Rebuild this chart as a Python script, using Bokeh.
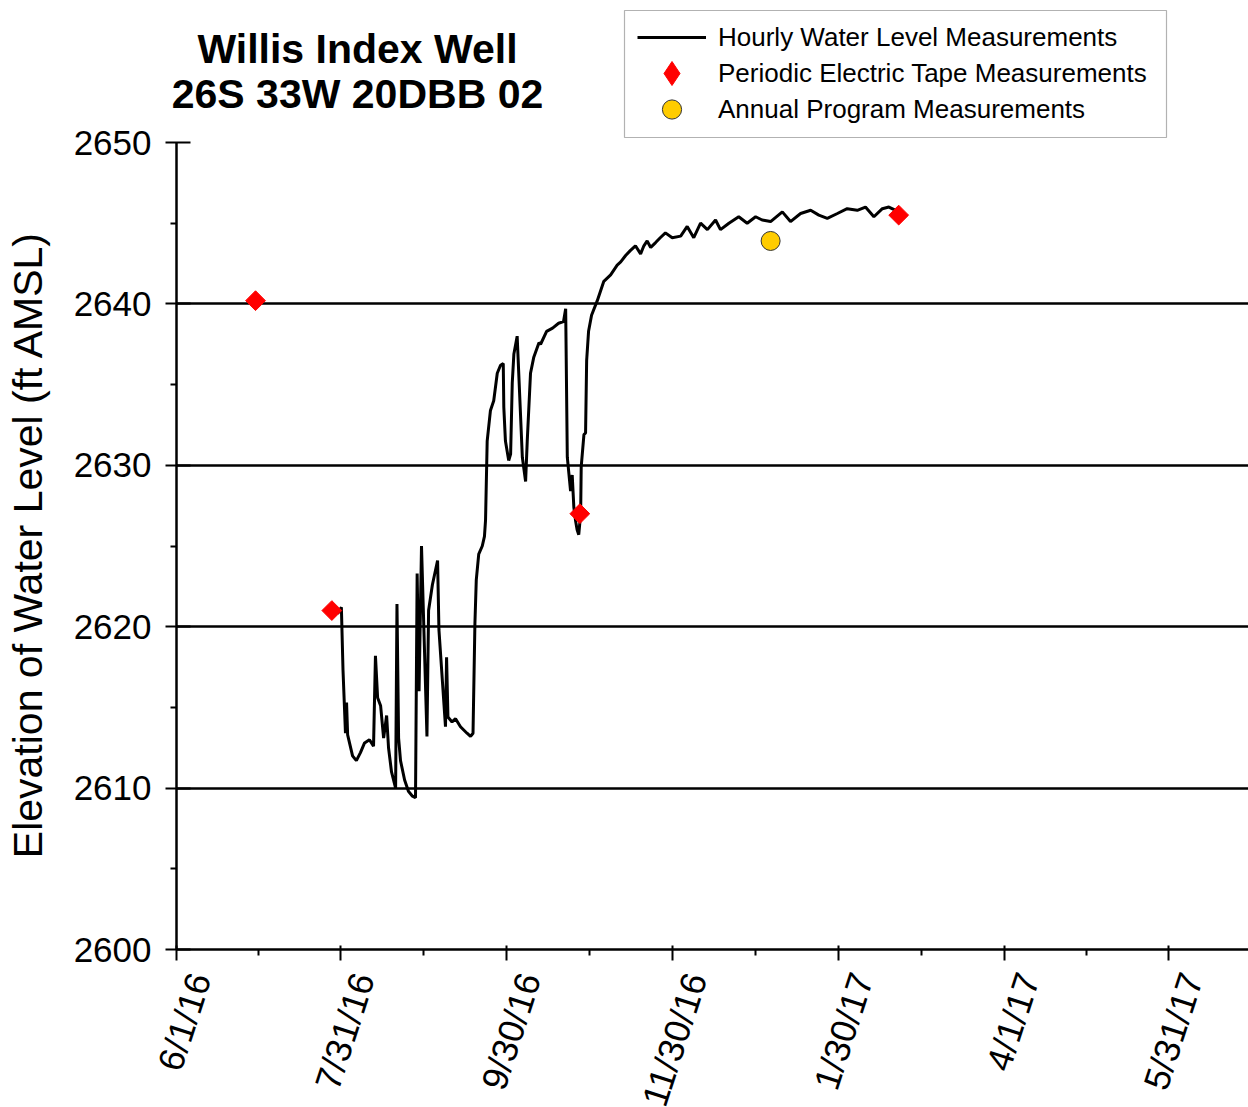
import math
import pandas as pd
from bokeh.plotting import figure
from bokeh.models import FixedTicker, Label, Legend, LegendItem, BoxAnnotation
from bokeh.embed import file_html
from bokeh.resources import INLINE

# ---------------- data ----------------
start_date = "2016-06-01"
tick_dates = ["2016-06-01", "2016-07-31", "2016-09-30", "2016-11-30",
              "2017-01-30", "2017-04-01", "2017-05-31"]
tick_labels = ["6/1/16", "7/31/16", "9/30/16", "11/30/16", "1/30/17", "4/1/17", "5/31/17"]
y_ticks = [2600, 2610, 2620, 2630, 2640, 2650]
y_minor = [2605, 2615, 2625, 2635, 2645]
grid_levels = [2610, 2620, 2630, 2640]

# hourly record: days since 6/1/16, elevation (ft AMSL)
hourly_days = [59.1, 60.5, 61.1, 62.0, 62.4, 62.8, 64.6, 66.0, 67.5, 69.0, 70.8, 72.3,
               73.0, 73.8, 74.9, 76.0, 77.1, 77.8, 78.9, 80.4, 80.9, 81.5, 82.2, 83.7,
               85.1, 86.6, 87.7, 88.3, 89.0, 89.9, 91.9, 92.5, 93.9, 95.8, 96.3, 98.7,
               99.1, 99.6, 101.1, 102.4, 104.2, 106.6, 107.9, 108.8, 109.5, 110.0, 110.9,
               112.2, 113.0, 113.4, 114.0, 115.2, 116.4, 117.7, 118.9, 119.9, 120.1, 120.7,
               121.9, 122.6, 123.2, 123.8, 125.0, 126.9, 128.1, 128.7, 129.9, 131.1, 133.0,
               133.6, 135.8, 138.0, 140.2, 142.0, 142.8, 143.4, 144.6, 145.2, 145.8, 146.4,
               147.0, 147.6, 148.3, 148.5, 149.5, 150.1, 150.5, 151.2, 152.3, 154.4, 156.8,
               159.3, 161.7, 163.0, 164.8, 166.5, 168.4, 170.3, 171.5, 172.7, 174.0, 175.8,
               177.5, 179.4, 181.9, 185.0, 187.4, 189.8, 192.3, 194.8, 197.8, 199.6, 202.7,
               206.3, 209.4, 212.5, 214.9, 218.0, 222.3, 225.3, 229.0, 232.7, 235.7, 238.8,
               242.5, 246.1, 249.8, 252.8, 255.9, 259.0, 261.4, 263.9]
hourly_level = [2620.8, 2621.2, 2617.3, 2613.4, 2615.3, 2613.3, 2612.0, 2611.7, 2612.2, 2612.8,
                2613.0, 2612.6, 2618.2, 2615.6, 2615.1, 2613.1, 2614.5, 2612.5, 2611.0, 2610.0,
                2621.4, 2613.1, 2611.7, 2610.5, 2609.8, 2609.5, 2609.4, 2623.3, 2616.0, 2625.0,
                2613.2, 2621.0, 2622.6, 2624.1, 2619.8, 2613.8, 2618.1, 2614.4, 2614.1, 2614.3,
                2613.8, 2613.4, 2613.2, 2613.4, 2620.2, 2622.9, 2624.5, 2625.0, 2625.6, 2626.6,
                2631.5, 2633.4, 2634.0, 2635.7, 2636.2, 2636.3, 2633.6, 2631.5, 2630.3, 2630.7,
                2635.1, 2636.9, 2638.0, 2630.5, 2629.0, 2631.5, 2635.7, 2636.7, 2637.6, 2637.5,
                2638.3, 2638.5, 2638.8, 2638.9, 2639.7, 2630.5, 2628.4, 2629.4, 2627.4, 2626.6,
                2626.0, 2625.7, 2627.0, 2629.9, 2631.9, 2632.0, 2636.5, 2638.3, 2639.3, 2640.2,
                2641.4, 2641.8, 2642.4, 2642.6, 2643.0, 2643.3, 2643.6, 2643.1, 2643.6, 2643.9,
                2643.5, 2643.8, 2644.1, 2644.4, 2644.1, 2644.2, 2644.8, 2644.1, 2645.0, 2644.6,
                2645.2, 2644.6, 2645.0, 2645.4, 2645.0, 2645.4, 2645.2, 2645.1, 2645.7, 2645.1,
                2645.6, 2645.8, 2645.5, 2645.3, 2645.6, 2645.9, 2645.8, 2646.0, 2645.4, 2645.9,
                2646.0, 2645.8]

periodic_dates = ["2016-06-30", "2016-07-28", "2016-10-27", "2017-02-21"]
periodic_level = [2640.2, 2621.0, 2627.0, 2645.5]

annual_dates = ["2017-01-05"]
annual_level = [2643.9]

legend_labels = ["Hourly Water Level Measurements",
                 "Periodic Electric Tape Measurements",
                 "Annual Program Measurements"]

# ---------------- helpers ----------------
t0 = pd.Timestamp(start_date)
def to_days(dates):
    return [(pd.Timestamp(d) - t0).days for d in dates]

tick_pos = to_days(tick_dates)
minor_pos = [(a + b) / 2 for a, b in zip(tick_pos[:-1], tick_pos[1:])] + [tick_pos[-1] + 30.5]

FONT = "Liberation Sans"
W, H = 1248, 1107
X_AX, Y_TOP_PX, Y_BOT_PX = 176, 142, 949          # axis placement in pixels
Y0, Y1 = 2600, 2650
PX_PER_FT = (Y_BOT_PX - Y_TOP_PX) / (Y1 - Y0)
PX_PER_DAY = (1168 - X_AX) / tick_pos[-1]
x_start = -X_AX / PX_PER_DAY
x_end = (W - X_AX) / PX_PER_DAY
y_start = Y0 - (H - Y_BOT_PX) / PX_PER_FT
y_end = Y1 + Y_TOP_PX / PX_PER_FT

def ypix_to_val(py):
    return Y1 - (py - Y_TOP_PX) / PX_PER_FT
def xpix_to_val(px):
    return (px - X_AX) / PX_PER_DAY

p = figure(width=W, height=H, x_range=(x_start, x_end), y_range=(y_start, y_end),
           output_backend="svg", toolbar_location=None,
           min_border_left=0, min_border_top=0, min_border_bottom=0, min_border_right=0)
p.outline_line_color = None
p.background_fill_color = "white"
p.border_fill_color = "white"

# grid
p.xgrid.visible = False
p.ygrid.ticker = FixedTicker(ticks=grid_levels)
p.ygrid.grid_line_color = "black"
p.ygrid.grid_line_width = 2.5
try:
    p.ygrid.cross_bounds = (0, x_end)
except Exception:
    pass

# x axis
xa = p.xaxis[0]
xa.fixed_location = Y0
xa.bounds = (0, x_end)
xa.ticker = FixedTicker(ticks=tick_pos, minor_ticks=minor_pos)
xa.major_label_overrides = {int(t): "\n" + lab for t, lab in zip(tick_pos, tick_labels)}
xa.major_label_orientation = math.radians(72)
xa.major_label_text_font = FONT
xa.major_label_text_font_size = "36px"
xa.major_label_text_color = "black"
xa.major_label_standoff = 6
xa.axis_line_color = "black"
xa.axis_line_width = 2.5
xa.major_tick_line_color = "black"
xa.major_tick_line_width = 2
xa.major_tick_out = 11
xa.major_tick_in = 4
xa.minor_tick_line_color = "black"
xa.minor_tick_line_width = 2
xa.minor_tick_out = 6
xa.minor_tick_in = 0

# y axis
ya = p.yaxis[0]
ya.fixed_location = 0
ya.bounds = (Y0, Y1)
ya.ticker = FixedTicker(ticks=y_ticks, minor_ticks=y_minor)
ya.major_label_text_font = FONT
ya.major_label_text_font_size = "35px"
ya.major_label_text_color = "black"
ya.major_label_standoff = 14
ya.axis_line_color = "black"
ya.axis_line_width = 2.5
ya.major_tick_line_color = "black"
ya.major_tick_line_width = 2
ya.major_tick_out = 11
ya.major_tick_in = 14
ya.minor_tick_line_color = "black"
ya.minor_tick_line_width = 2
ya.minor_tick_out = 6
ya.minor_tick_in = 0

# y axis title
p.add_layout(Label(x=xpix_to_val(27), y=ypix_to_val(544), angle=math.pi / 2,
                   text="Elevation of Water Level (ft AMSL)", text_align="center",
                   text_baseline="middle", text_font=FONT, text_font_size="41px",
                   text_color="black"))

# glyphs
line_r = p.line(hourly_days, hourly_level, line_color="black", line_width=3)
# legend key for the electric-tape points (hidden under the rotated squares)
per_key = p.scatter(to_days(periodic_dates), periodic_level, marker="diamond", size=10,
                    fill_color="#ff0000", line_color="#ff0000")
per_r = p.scatter(to_days(periodic_dates), periodic_level, marker="square",
                  angle=math.pi / 4, size=14, fill_color="#ff0000", line_color="#ff0000")
ann_r = p.scatter(to_days(annual_dates), annual_level, marker="circle", size=19,
                  fill_color="#ffcc00", line_color="#333333", line_width=1)

# title (two lines)
for txt, py in [("Willis Index Well", 48), ("26S 33W 20DBB 02", 93)]:
    p.add_layout(Label(x=xpix_to_val(357), y=ypix_to_val(py), text=txt,
                       text_align="center", text_baseline="middle",
                       text_font=FONT, text_font_size="41px", text_font_style="bold",
                       text_color="black"))

# legend frame
p.add_layout(BoxAnnotation(left=xpix_to_val(624), right=xpix_to_val(1166),
                           top=ypix_to_val(10), bottom=ypix_to_val(137),
                           fill_color="white", fill_alpha=1.0,
                           line_color="black", line_width=1.2))

# one legend per row so that each key can be sized like the reference
rows = [(line_r, 37, 48), (per_key, 73, 60), (ann_r, 109, 48)]
for (rend, cy, gh), lab in zip(rows, legend_labels):
    lg = Legend(items=[LegendItem(label=lab, renderers=[rend])],
                location=(637, H - (cy + gh // 2)))
    lg.label_text_font = FONT
    lg.label_text_font_size = "26px"
    lg.label_text_color = "black"
    lg.glyph_width = 69
    lg.glyph_height = gh
    lg.label_height = 30
    lg.label_standoff = 12
    lg.spacing = 0
    lg.padding = 0
    lg.margin = 0
    lg.border_line_color = None
    lg.background_fill_alpha = 0.0
    p.add_layout(lg)

open("out.html", "w").write(file_html(p, INLINE))
